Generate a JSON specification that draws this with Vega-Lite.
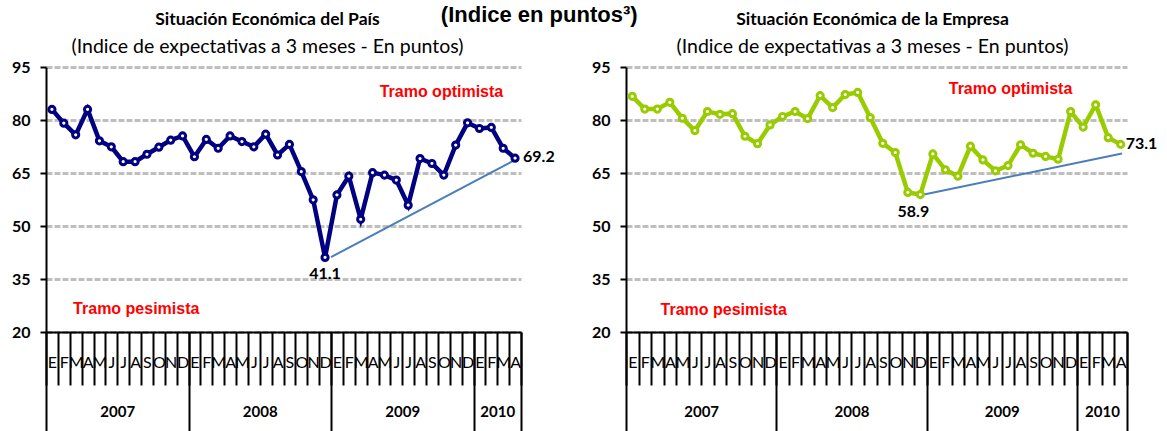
{
  "$schema": "https://vega.github.io/schema/vega-lite/v6.json",
  "padding": {"left": 5, "top": 4, "right": 5, "bottom": 0},
  "bounds": "flush",
  "spacing": 105,
  "title": {"text": "(Indice en puntos³)", "font": "Liberation Sans", "fontSize": 22, "fontWeight": "bold", "color": "black", "anchor": "middle", "dx": -42, "offset": -16},
  "datasets": {
    "pais": [
      {"m": 1, "v": 83.0}, {"m": 2, "v": 79.1}, {"m": 3, "v": 75.8}, {"m": 4, "v": 83.0}, {"m": 5, "v": 74.1},
      {"m": 6, "v": 72.4}, {"m": 7, "v": 68.2}, {"m": 8, "v": 68.2}, {"m": 9, "v": 70.3}, {"m": 10, "v": 72.3},
      {"m": 11, "v": 74.3}, {"m": 12, "v": 75.5}, {"m": 13, "v": 69.6}, {"m": 14, "v": 74.5}, {"m": 15, "v": 72.0},
      {"m": 16, "v": 75.5}, {"m": 17, "v": 73.9}, {"m": 18, "v": 72.4}, {"m": 19, "v": 76.0}, {"m": 20, "v": 70.1},
      {"m": 21, "v": 73.1}, {"m": 22, "v": 65.4}, {"m": 23, "v": 57.4}, {"m": 24, "v": 41.1}, {"m": 25, "v": 58.8},
      {"m": 26, "v": 64.1}, {"m": 27, "v": 51.9}, {"m": 28, "v": 65.1}, {"m": 29, "v": 64.4}, {"m": 30, "v": 63.0},
      {"m": 31, "v": 55.9}, {"m": 32, "v": 69.1}, {"m": 33, "v": 67.7}, {"m": 34, "v": 64.4}, {"m": 35, "v": 72.9},
      {"m": 36, "v": 79.2}, {"m": 37, "v": 77.6}, {"m": 38, "v": 77.9}, {"m": 39, "v": 72.0}, {"m": 40, "v": 69.2}
    ],
    "empresa": [
      {"m": 1, "v": 86.7}, {"m": 2, "v": 83.1}, {"m": 3, "v": 83.1}, {"m": 4, "v": 85.0}, {"m": 5, "v": 80.5},
      {"m": 6, "v": 77.0}, {"m": 7, "v": 82.4}, {"m": 8, "v": 81.6}, {"m": 9, "v": 81.8}, {"m": 10, "v": 75.4},
      {"m": 11, "v": 73.3}, {"m": 12, "v": 78.6}, {"m": 13, "v": 81.0}, {"m": 14, "v": 82.4}, {"m": 15, "v": 80.4},
      {"m": 16, "v": 86.9}, {"m": 17, "v": 83.5}, {"m": 18, "v": 87.2}, {"m": 19, "v": 87.8}, {"m": 20, "v": 80.7},
      {"m": 21, "v": 73.4}, {"m": 22, "v": 70.8}, {"m": 23, "v": 59.5}, {"m": 24, "v": 58.9}, {"m": 25, "v": 70.4},
      {"m": 26, "v": 65.9}, {"m": 27, "v": 64.1}, {"m": 28, "v": 72.6}, {"m": 29, "v": 68.7}, {"m": 30, "v": 65.6},
      {"m": 31, "v": 67.1}, {"m": 32, "v": 73.0}, {"m": 33, "v": 70.6}, {"m": 34, "v": 69.7}, {"m": 35, "v": 68.9},
      {"m": 36, "v": 82.4}, {"m": 37, "v": 78.0}, {"m": 38, "v": 84.3}, {"m": 39, "v": 75.0}, {"m": 40, "v": 73.1}
    ],
    "trendPais": [{"m": 24.5, "v": 41.2}, {"m": 40, "v": 68.7}],
    "trendEmpresa": [{"m": 24.1, "v": 58.8}, {"m": 40.1, "v": 70.5}],
    "tramoPais": [{"m": 33.8, "v": 87.9, "t": "Tramo optimista"}, {"m": 8.1, "v": 26.5, "t": "Tramo pesimista"}],
    "tramoEmpresa": [{"m": 31.2, "v": 88.7, "t": "Tramo optimista"}, {"m": 8.3, "v": 26.3, "t": "Tramo pesimista"}]
  },
  "hconcat": [
    {
      "width": 475,
      "height": 265,
      "title": {"text": "Situación Económica del País", "subtitle": "(Indice de expectativas a 3 meses - En puntos)", "font": "Lato", "fontSize": 17.5, "fontWeight": "bold", "color": "black", "subtitleFont": "Lato", "subtitleFontSize": 19.5, "subtitleColor": "black", "subtitlePadding": 9, "offset": 3, "anchor": "middle", "dx": -16},
      "resolve": {"axis": {"x": "independent"}},
      "layer": [
        {
          "mark": {"type": "rule", "color": "#FF0000", "strokeWidth": 4},
          "encoding": {"y": {"datum": 50, "type": "quantitative"}}
        },
        {
          "data": {"name": "trendPais"},
          "mark": {"type": "line", "color": "#4A7EBB", "strokeWidth": 2},
          "encoding": {
            "x": {"field": "m", "type": "quantitative", "scale": {"domain": [0.5, 40.5], "nice": false, "zero": false},
              "axis": {"orient": "bottom", "title": null, "domain": false, "grid": false,
                "values": [0.5, 6.5, 12.5, 18.5, 24.5, 30.5, 36.5, 38.5, 40.5],
                "labelExpr": "datum.value == 6.5 ? '2007' : datum.value == 18.5 ? '2008' : datum.value == 30.5 ? '2009' : datum.value == 38.5 ? '2010' : ''",
                "tickOpacity": {"condition": {"test": "datum.value == 6.5 || datum.value == 18.5 || datum.value == 30.5 || datum.value == 38.5", "value": 0}, "value": 1},
                "tickSize": 110, "tickWidth": 2, "tickColor": "black",
                "labelPadding": -38, "labelFont": "Lato", "labelFontSize": 15, "labelFontWeight": "bold", "labelColor": "black",
                "labelAngle": 0, "labelOverlap": false, "labelFlush": false, "labelBound": false}},
            "y": {"field": "v", "type": "quantitative"}
          }
        },
        {
          "data": {"name": "pais"},
          "mark": {"type": "line", "color": "#000080", "strokeWidth": 4.5},
          "encoding": {
            "x": {"field": "m", "type": "quantitative", "scale": {"domain": [0.5, 40.5], "nice": false, "zero": false},
              "axis": {"orient": "bottom", "title": null, "grid": false, "domainColor": "black", "domainWidth": 2,
                "values": [0.5, 1, 1.5, 2, 2.5, 3, 3.5, 4, 4.5, 5, 5.5, 6, 6.5, 7, 7.5, 8, 8.5, 9, 9.5, 10, 10.5, 11, 11.5, 12, 12.5, 13, 13.5, 14, 14.5, 15, 15.5, 16, 16.5, 17, 17.5, 18, 18.5, 19, 19.5, 20, 20.5, 21, 21.5, 22, 22.5, 23, 23.5, 24, 24.5, 25, 25.5, 26, 26.5, 27, 27.5, 28, 28.5, 29, 29.5, 30, 30.5, 31, 31.5, 32, 32.5, 33, 33.5, 34, 34.5, 35, 35.5, 36, 36.5, 37, 37.5, 38, 38.5, 39, 39.5, 40, 40.5],
                "labelExpr": "datum.value % 1 === 0 ? substring('EFMAMJJASOND', (datum.value - 1) % 12, (datum.value - 1) % 12 + 1) : ''",
                "tickOpacity": {"condition": {"test": "datum.value % 1 === 0", "value": 0}, "value": 1},
                "tickSize": 53, "tickWidth": 2, "tickColor": "black",
                "labelPadding": -31, "labelFont": "Lato", "labelFontSize": 16, "labelFontWeight": "normal", "labelColor": "black",
                "labelAngle": 0, "labelOverlap": false, "labelFlush": false, "labelBound": false}},
            "y": {"field": "v", "type": "quantitative", "scale": {"domain": [20, 95], "nice": false, "zero": false},
              "axis": {"title": null, "values": [20, 35, 50, 65, 80, 95], "grid": true, "gridColor": "#BFBFBF", "gridWidth": 3, "gridDash": [6, 2],
                "domainColor": "black", "domainWidth": 2, "tickColor": "black", "tickWidth": 2, "tickSize": 6,
                "labelFont": "Lato", "labelFontSize": 16, "labelFontWeight": "bold", "labelColor": "black", "labelPadding": 10, "minExtent": 41}}
          }
        },
        {
          "data": {"name": "pais"},
          "mark": {"type": "point", "filled": false, "fill": "white", "stroke": "#000080", "strokeWidth": 3, "size": 38, "opacity": 1},
          "encoding": {
            "x": {"field": "m", "type": "quantitative", "axis": null},
            "y": {"field": "v", "type": "quantitative"}
          }
        },
        {
          "data": {"name": "tramoPais"},
          "mark": {"type": "text", "color": "#FF0000", "font": "Liberation Sans", "fontSize": 16, "fontWeight": "bold"},
          "encoding": {
            "x": {"field": "m", "type": "quantitative", "axis": null},
            "y": {"field": "v", "type": "quantitative"},
            "text": {"field": "t"}
          }
        },
        {
          "data": {"values": [{"m": 24, "v": 41.1, "t": "41.1"}]},
          "mark": {"type": "text", "color": "black", "font": "Lato", "fontSize": 16, "fontWeight": "bold", "dy": 17},
          "encoding": {
            "x": {"field": "m", "type": "quantitative", "axis": null},
            "y": {"field": "v", "type": "quantitative"},
            "text": {"field": "t"}
          }
        },
        {
          "data": {"values": [{"m": 40, "v": 69.2, "t": "69.2"}]},
          "mark": {"type": "text", "color": "black", "font": "Lato", "fontSize": 16, "fontWeight": "bold", "align": "left", "dx": 8, "dy": -1},
          "encoding": {
            "x": {"field": "m", "type": "quantitative", "axis": null},
            "y": {"field": "v", "type": "quantitative"},
            "text": {"field": "t"}
          }
        }
      ]
    },
    {
      "width": 501,
      "height": 265,
      "title": {"text": "Situación Económica de la Empresa", "subtitle": "(Indice de expectativas a 3 meses - En puntos)", "font": "Lato", "fontSize": 17.5, "fontWeight": "bold", "color": "black", "subtitleFont": "Lato", "subtitleFontSize": 19.5, "subtitleColor": "black", "subtitlePadding": 9, "offset": 3, "anchor": "middle", "dx": -4},
      "resolve": {"axis": {"x": "independent"}},
      "layer": [
        {
          "mark": {"type": "rule", "color": "#FF0000", "strokeWidth": 4},
          "encoding": {"y": {"datum": 50, "type": "quantitative"}}
        },
        {
          "data": {"name": "trendEmpresa"},
          "mark": {"type": "line", "color": "#4A7EBB", "strokeWidth": 2},
          "encoding": {
            "x": {"field": "m", "type": "quantitative", "scale": {"domain": [0.5, 40.5], "nice": false, "zero": false},
              "axis": {"orient": "bottom", "title": null, "domain": false, "grid": false,
                "values": [0.5, 6.5, 12.5, 18.5, 24.5, 30.5, 36.5, 38.5, 40.5],
                "labelExpr": "datum.value == 6.5 ? '2007' : datum.value == 18.5 ? '2008' : datum.value == 30.5 ? '2009' : datum.value == 38.5 ? '2010' : ''",
                "tickOpacity": {"condition": {"test": "datum.value == 6.5 || datum.value == 18.5 || datum.value == 30.5 || datum.value == 38.5", "value": 0}, "value": 1},
                "tickSize": 110, "tickWidth": 2, "tickColor": "black",
                "labelPadding": -38, "labelFont": "Lato", "labelFontSize": 15, "labelFontWeight": "bold", "labelColor": "black",
                "labelAngle": 0, "labelOverlap": false, "labelFlush": false, "labelBound": false}},
            "y": {"field": "v", "type": "quantitative"}
          }
        },
        {
          "data": {"name": "empresa"},
          "mark": {"type": "line", "color": "#99CC00", "strokeWidth": 4.5},
          "encoding": {
            "x": {"field": "m", "type": "quantitative", "scale": {"domain": [0.5, 40.5], "nice": false, "zero": false},
              "axis": {"orient": "bottom", "title": null, "grid": false, "domainColor": "black", "domainWidth": 2,
                "values": [0.5, 1, 1.5, 2, 2.5, 3, 3.5, 4, 4.5, 5, 5.5, 6, 6.5, 7, 7.5, 8, 8.5, 9, 9.5, 10, 10.5, 11, 11.5, 12, 12.5, 13, 13.5, 14, 14.5, 15, 15.5, 16, 16.5, 17, 17.5, 18, 18.5, 19, 19.5, 20, 20.5, 21, 21.5, 22, 22.5, 23, 23.5, 24, 24.5, 25, 25.5, 26, 26.5, 27, 27.5, 28, 28.5, 29, 29.5, 30, 30.5, 31, 31.5, 32, 32.5, 33, 33.5, 34, 34.5, 35, 35.5, 36, 36.5, 37, 37.5, 38, 38.5, 39, 39.5, 40, 40.5],
                "labelExpr": "datum.value % 1 === 0 ? substring('EFMAMJJASOND', (datum.value - 1) % 12, (datum.value - 1) % 12 + 1) : ''",
                "tickOpacity": {"condition": {"test": "datum.value % 1 === 0", "value": 0}, "value": 1},
                "tickSize": 53, "tickWidth": 2, "tickColor": "black",
                "labelPadding": -31, "labelFont": "Lato", "labelFontSize": 16, "labelFontWeight": "normal", "labelColor": "black",
                "labelAngle": 0, "labelOverlap": false, "labelFlush": false, "labelBound": false}},
            "y": {"field": "v", "type": "quantitative", "scale": {"domain": [20, 95], "nice": false, "zero": false},
              "axis": {"title": null, "values": [20, 35, 50, 65, 80, 95], "grid": true, "gridColor": "#BFBFBF", "gridWidth": 3, "gridDash": [6, 2],
                "domainColor": "black", "domainWidth": 2, "tickColor": "black", "tickWidth": 2, "tickSize": 6,
                "labelFont": "Lato", "labelFontSize": 16, "labelFontWeight": "bold", "labelColor": "black", "labelPadding": 10, "minExtent": 41}}
          }
        },
        {
          "data": {"name": "empresa"},
          "mark": {"type": "point", "filled": false, "fill": "white", "stroke": "#99CC00", "strokeWidth": 3, "size": 38, "opacity": 1},
          "encoding": {
            "x": {"field": "m", "type": "quantitative", "axis": null},
            "y": {"field": "v", "type": "quantitative"}
          }
        },
        {
          "data": {"name": "tramoEmpresa"},
          "mark": {"type": "text", "color": "#FF0000", "font": "Liberation Sans", "fontSize": 16, "fontWeight": "bold"},
          "encoding": {
            "x": {"field": "m", "type": "quantitative", "axis": null},
            "y": {"field": "v", "type": "quantitative"},
            "text": {"field": "t"}
          }
        },
        {
          "data": {"values": [{"m": 24, "v": 58.9, "t": "58.9"}]},
          "mark": {"type": "text", "color": "black", "font": "Lato", "fontSize": 16, "fontWeight": "bold", "dy": 17, "dx": -7},
          "encoding": {
            "x": {"field": "m", "type": "quantitative", "axis": null},
            "y": {"field": "v", "type": "quantitative"},
            "text": {"field": "t"}
          }
        },
        {
          "data": {"values": [{"m": 40, "v": 73.1, "t": "73.1"}]},
          "mark": {"type": "text", "color": "black", "font": "Lato", "fontSize": 16, "fontWeight": "bold", "align": "left", "dx": 5},
          "encoding": {
            "x": {"field": "m", "type": "quantitative", "axis": null},
            "y": {"field": "v", "type": "quantitative"},
            "text": {"field": "t"}
          }
        }
      ]
    }
  ],
  "config": {"view": {"stroke": null}}
}
